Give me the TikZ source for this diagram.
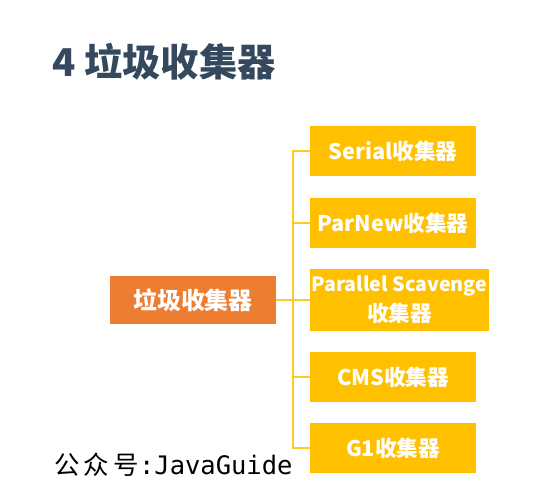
\documentclass[tikz,border=0pt]{standalone}
\usepackage{fontspec}
\setmainfont{Noto Sans CJK SC}
\newfontfamily\cjk{Noto Sans CJK SC}
\newfontfamily\monofont{DejaVu Sans Mono}
\usetikzlibrary{positioning}

\definecolor{titlecol}{HTML}{34495E}
\definecolor{rootcol}{HTML}{ED7D31}
\definecolor{leafcol}{HTML}{FFC000}

\begin{document}
\begin{tikzpicture}[x=0.02cm,y=-0.02cm]
	\tikzstyle{root}=[fill=rootcol,minimum width=166*0.02cm,minimum height=48*0.02cm,inner sep=0pt,text=white,font=\cjk\bfseries\fontsize{13.6}{15}\selectfont]
	\tikzstyle{leaf}=[fill=leafcol,minimum width=166*0.02cm,minimum height=50*0.02cm,inner sep=0pt,text=white,align=center,font=\cjk\bfseries\fontsize{12.3}{17}\selectfont]
	\tikzstyle{link}=[leafcol!85!white,thick]
	\useasboundingbox (0,0) rectangle (560,495);

	% title
	\node[anchor=west,text=titlecol,font=\cjk\bfseries\fontsize{21.8}{24}\selectfont] (title) at (46,62) {4 垃圾收集器};

	% tree
	\node[root] (gc) at (193,300) {垃圾收集器};
	\node[leaf] (serial) at (393,151) {Serial收集器};
	\node[leaf] (parnew) at (393,223) {ParNew收集器};
	\node[leaf,minimum width=179*0.02cm,minimum height=62*0.02cm,font=\cjk\bfseries\fontsize{11.2}{17}\selectfont] (parallel) at (399.5,300) {Parallel Scavenge\\{\fontsize{12.3}{17}\selectfont 收集器}};
	\node[leaf] (cms) at (393,377) {CMS收集器};
	\node[leaf] (gone) at (393,448) {G1收集器};

	\coordinate (bus) at (293,300);
	\draw[link] (gc.east) -- (bus);
	\draw[link] (bus) |- (serial.west);
	\draw[link] (bus) |- (parnew.west);
	\draw[link] (bus) -- (parallel.west);
	\draw[link] (bus) |- (cms.west);
	\draw[link] (bus) |- (gone.west);

	% watermark
	\node[anchor=west,font=\fontsize{14.5}{16}\selectfont] (mark) at (48,465) {{\cjk 公\,众\,号}{\monofont :JavaGuide}};
\end{tikzpicture}
\end{document}
